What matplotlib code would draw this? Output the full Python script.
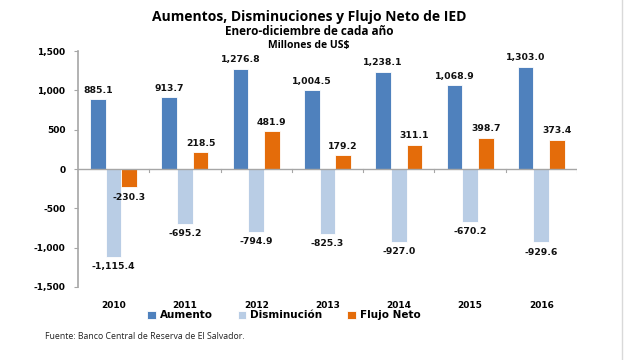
import numpy as np
import matplotlib
matplotlib.use("Agg")
import matplotlib.pyplot as plt

years = ["2010", "2011", "2012", "2013", "2014", "2015", "2016"]
aumento = [885.1, 913.7, 1276.8, 1004.5, 1238.1, 1068.9, 1303.0]
disminucion = [-1115.4, -695.2, -794.9, -825.3, -927.0, -670.2, -929.6]
flujo_neto = [-230.3, 218.5, 481.9, 179.2, 311.1, 398.7, 373.4]
series_names = ["Aumento", "Disminución", "Flujo Neto"]
colors = ["#4F81BD", "#B9CDE5", "#E46C0A"]


def fmt(v):
    return "{:,.1f}".format(v)


fig = plt.figure(figsize=(6.27, 3.6), dpi=100)
ax = fig.add_axes([0.1244, 0.2028, 0.7958, 0.6555])

x = np.arange(len(years))
w = 0.22
lab_font = dict(family="DejaVu Sans", fontsize=6.7, fontweight="bold", color="#111111")

bars = []
for i, (vals, c) in enumerate(zip([aumento, disminucion, flujo_neto], colors)):
    b = ax.bar(x + (i - 1) * w, vals, width=w, color=c, edgecolor="white",
               linewidth=0.6, label=series_names[i], zorder=2)
    bars.append(b)
    for xi, v in zip(x + (i - 1) * w, vals):
        if v >= 0:
            ax.annotate(fmt(v), (xi, v), xytext=(0, 3), textcoords="offset points",
                        ha="center", va="bottom", **lab_font)
        else:
            ax.annotate(fmt(v), (xi, v), xytext=(0, -4), textcoords="offset points",
                        ha="center", va="top", **lab_font)

ax.set_xlim(-0.5, len(years) - 0.5)
ax.set_ylim(-1500, 1500)
ax.set_yticks(np.arange(-1500, 1501, 500))
ax.set_yticklabels([fmt(t)[:-2] for t in np.arange(-1500, 1501, 500)])
ax.tick_params(axis="y", length=3, color="#A6A6A6", labelsize=6.5, pad=6)
for t in ax.get_yticklabels():
    t.set_fontweight("bold")

ax.set_xticks(x)
ax.set_xticklabels(years, fontsize=6.5, fontweight="bold")
ax.tick_params(axis="x", length=0, pad=10)

for s in ["top", "right", "bottom"]:
    ax.spines[s].set_visible(False)
ax.spines["left"].set_color("#A6A6A6")
ax.spines["left"].set_linewidth(1.2)

# zero line with category tick marks
ax.axhline(0, color="#A6A6A6", linewidth=1.0, zorder=3)
for b in np.arange(0.5, len(years), 1.0):
    ax.plot([b, b], [0, -35], color="#A6A6A6", linewidth=0.8, zorder=3)

fig.text(0.493, 0.952, "Aumentos, Disminuciones y Flujo Neto de IED",
         ha="center", va="center", fontsize=10, fontweight="bold", family="Open Sans")
fig.text(0.493, 0.912, "Enero-diciembre de cada año",
         ha="center", va="center", fontsize=8.5, fontweight="bold", family="Open Sans")
fig.text(0.493, 0.874, "Millones de US$",
         ha="center", va="center", fontsize=7.5, fontweight="bold", family="Open Sans")

leg = fig.legend(handles=bars, labels=series_names, loc="center",
                 bbox_to_anchor=(0.453, 0.124), ncol=3, frameon=False,
                 prop=dict(family="DejaVu Sans", weight="bold", size=7.5),
                 handlelength=0.8, handleheight=0.8, columnspacing=2.4,
                 handletextpad=0.4)

fig.text(0.072, 0.066, "Fuente: Banco Central de Reserva de El Salvador.",
         ha="left", va="center", fontsize=6.3, family="Open Sans", color="#222222")

fig.add_artist(plt.Line2D([0.992, 0.992], [0.0, 1.0], color="#D9D9D9", linewidth=1.0))

fig.savefig("out.png", dpi=100)
